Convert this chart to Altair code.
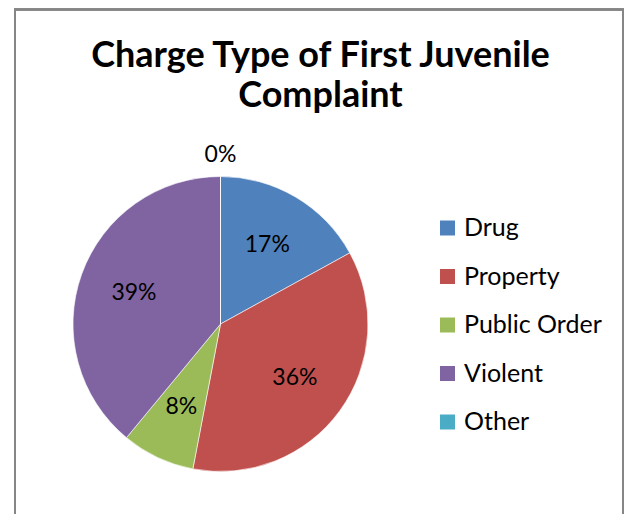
import altair as alt
import pandas as pd

categories = ["Drug", "Property", "Public Order", "Violent", "Other"]
values = [17, 36, 8, 39, 0]
colors = ["#4F81BD", "#C0504D", "#9BBB59", "#8064A2", "#4BACC6"]
title_lines = ["Charge Type of First Juvenile", "Complaint"]

df = pd.DataFrame({"category": categories, "value": values, "ord": list(range(len(categories)))})

FONT = "Lato"

base = alt.Chart(df).encode(
    theta=alt.Theta("value:Q", stack=True),
    order=alt.Order("ord:Q"),
)

color = alt.Color(
    "category:N",
    sort=categories,
    scale=alt.Scale(domain=categories, range=colors),
    legend=alt.Legend(
        title=None,
        orient="none",
        legendX=362,
        legendY=39,
        symbolType="square",
        symbolSize=225,
        symbolStrokeWidth=0,
        labelFont=FONT,
        labelFontSize=25,
        labelColor="#000000",
        labelLimit=300,
        rowPadding=22.5,
        labelOffset=4,
    ),
)

pie = base.mark_arc(outerRadius=147.5, stroke="white", strokeWidth=0.6).encode(color=color)

labels = base.transform_calculate(
    label="datum.value + '%'"
).transform_filter("datum.value > 0").mark_text(
    radius=92, font=FONT, fontSize=23, color="#000000"
).encode(text="label:N")

zero_labels = base.transform_calculate(
    label="datum.value + '%'"
).transform_filter("datum.value == 0").mark_text(
    radius=169, font=FONT, fontSize=23, color="#000000"
).encode(text="label:N")

border = alt.Chart(df).mark_rect(
    fill=None, stroke="#868686", strokeWidth=2
).encode(
    x=alt.value(-58), x2=alt.value(550), y=alt.value(-167), y2=alt.value(420)
)

chart = alt.layer(border, pie, labels, zero_labels).properties(
    width=295,
    height=295,
    background="white",
    padding={"left": 65, "top": 168.5, "right": 256, "bottom": 42.5},
    autosize=alt.AutoSizeParams(type="none"),
    title=alt.Title(
        text=title_lines,
        font=FONT,
        fontSize=36,
        fontWeight="bold",
        color="#000000",
        anchor="middle",
        dx=100,
        offset=-106,
        lineHeight=40,
    ),
).configure_view(strokeWidth=0, stroke="transparent")

chart.save("out.html", embed_options={"renderer": "svg", "actions": False})
